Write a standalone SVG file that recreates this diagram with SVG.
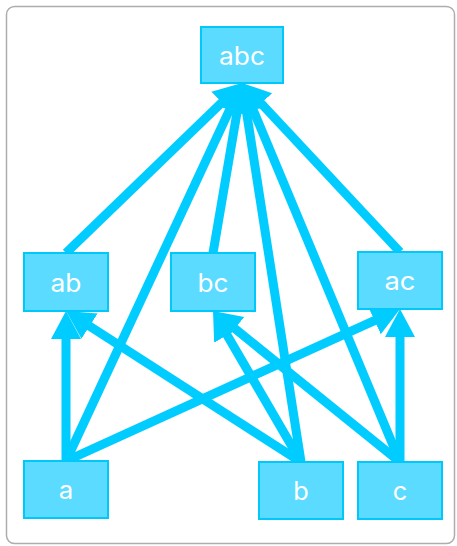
<svg xmlns="http://www.w3.org/2000/svg" width="457" height="546" viewBox="0 0 457 546">
<style>
.frame{fill:#fff;stroke:#adadad;stroke-width:1.5}
.node rect{fill:#5bdbff;stroke:#00c8fa;stroke-width:2}
.node text{fill:#fff;font-family:Inter,"Liberation Sans",sans-serif;font-size:25px;text-anchor:middle;dominant-baseline:central}
.edge{stroke:#00ccff;stroke-width:9;fill:none;marker-end:url(#arr)}
</style>
<defs>
<marker id="arr" markerUnits="userSpaceOnUse" markerWidth="30" markerHeight="32" viewBox="0 -16 30 32" refX="4" refY="0" orient="auto">
<path d="M0,-15 L28,0 L0,15 z" fill="#00ccff"/>
</marker>
</defs>
<rect class="frame" x="6.5" y="6.5" width="448" height="537" rx="8"/>
<g id="connectors">
<line class="edge" x1="66" y1="461" x2="66" y2="335"/>
<line class="edge" x1="301" y1="462" x2="86.2" y2="324"/>
<line class="edge" x1="66" y1="461" x2="378.2" y2="318.9"/>
<line class="edge" x1="400" y1="462" x2="400" y2="333"/>
<line class="edge" x1="301" y1="462" x2="225.1" y2="331.7"/>
<line class="edge" x1="400" y1="462" x2="231.7" y2="326.1"/>
<line class="edge" x1="66" y1="253" x2="224.7" y2="99.7"/>
<line class="edge" x1="213" y1="253" x2="238" y2="106.7"/>
<line class="edge" x1="400" y1="252" x2="258.4" y2="100.5"/>
<line class="edge" x1="66" y1="461" x2="231.9" y2="104.8"/>
<line class="edge" x1="301" y1="462" x2="245.7" y2="106.7"/>
<line class="edge" x1="400" y1="462" x2="251.2" y2="105.2"/>
</g>
<g id="node-abc" class="node"><rect x="201" y="27" width="82" height="56"/><text x="242" y="55.5" textLength="46" lengthAdjust="spacingAndGlyphs">abc</text></g>
<g id="node-ab" class="node"><rect x="24" y="253" width="84" height="58"/><text x="66" y="282.5" textLength="31" lengthAdjust="spacingAndGlyphs">ab</text></g>
<g id="node-bc" class="node"><rect x="171" y="253" width="84" height="58"/><text x="213" y="282.5" textLength="31" lengthAdjust="spacingAndGlyphs">bc</text></g>
<g id="node-ac" class="node"><rect x="358" y="252" width="84" height="57"/><text x="400" y="281" textLength="31" lengthAdjust="spacingAndGlyphs">ac</text></g>
<g id="node-a" class="node"><rect x="24" y="461" width="84" height="57"/><text x="66" y="490" textLength="14.5" lengthAdjust="spacingAndGlyphs">a</text></g>
<g id="node-b" class="node"><rect x="259" y="462" width="84" height="57"/><text x="301" y="491" textLength="15.5" lengthAdjust="spacingAndGlyphs">b</text></g>
<g id="node-c" class="node"><rect x="358" y="462" width="84" height="57"/><text x="400" y="491" textLength="14.5" lengthAdjust="spacingAndGlyphs">c</text></g>
</svg>
